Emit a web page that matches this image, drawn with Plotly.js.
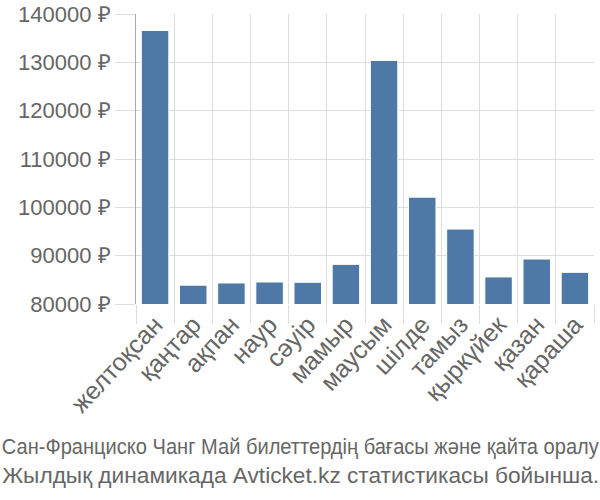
<!DOCTYPE html>
<html>
<head>
<meta charset="utf-8">
<script src="https://cdn.plot.ly/plotly-3.0.1.min.js"></script>
<style>html,body{margin:0;padding:0;background:#fff;}#chart{width:600px;height:500px;}</style>
</head>
<body>
<div id="chart"></div>
<script>
const months = ["желтоқсан","қаңтар","ақпан","наур","сәуір","мамыр","маусым","шілде","тамыз","қыркүйек","қазан","қараша"];
const prices = [136600, 83900, 84350, 84550, 84500, 88200, 130400, 102100, 95500, 85600, 89300, 86550];
const yTicks = [80000, 90000, 100000, 110000, 120000, 130000, 140000];
const yTickLabels = yTicks.map(v => v + " ₽");
const captionLines = ["Сан-Франциско Чанг Май билеттердің бағасы және қайта оралу", "Жылдық динамикада Avticket.kz статистикасы бойынша."];

const trace = {
  type: "bar",
  x: months,
  y: prices,
  marker: {color: "#4e79a7", line: {color: "#ffffff", width: 1}},
  hoverinfo: "x+y"
};

const layout = {
  width: 600, height: 500,
  margin: {l: 136, r: 6, t: 14, b: 196},
  paper_bgcolor: "#ffffff", plot_bgcolor: "#ffffff",
  bargap: 0.28,
  showlegend: false,
  font: {family: "Liberation Sans, Arial, sans-serif", color: "#666666", size: 22},
  xaxis: {
    type: "category",
    tickson: "boundaries",
    ticks: "outside", ticklen: 19, tickcolor: "#dddddd", tickwidth: 1,
    showgrid: true, gridcolor: "#dddddd", gridwidth: 1,
    showline: false, zeroline: false,
    tickangle: -47,
    tickfont: {size: 25, color: "#666666"}
  },
  yaxis: {
    range: [80000, 140000],
    tickvals: yTicks, ticktext: yTickLabels,
    ticks: "outside", ticklen: 20, tickcolor: "#dddddd", tickwidth: 1,
    showgrid: true, gridcolor: "#dddddd", gridwidth: 1,
    showline: true, linecolor: "#aaaaaa", linewidth: 1,
    zeroline: false,
    tickfont: {size: 22, color: "#666666"}
  },
  annotations: captionLines.map((t, i) => ({
    text: t, xref: "paper", yref: "paper", x: 0.5, xanchor: "center",
    y: 0, yanchor: "middle", yshift: -142 - i * 29, xshift: -64.5,
    showarrow: false,
    font: {family: "Liberation Sans, Arial, sans-serif", size: 22, color: "#666666"}
  }))
};

Plotly.newPlot("chart", [trace], layout, {displayModeBar: false, staticPlot: true}).then(gd => {
  gd.querySelectorAll(".annotation-text").forEach(el => {
    el.setAttribute("textLength", "597");
    el.setAttribute("lengthAdjust", "spacingAndGlyphs");
  });
});
</script>
</body>
</html>
